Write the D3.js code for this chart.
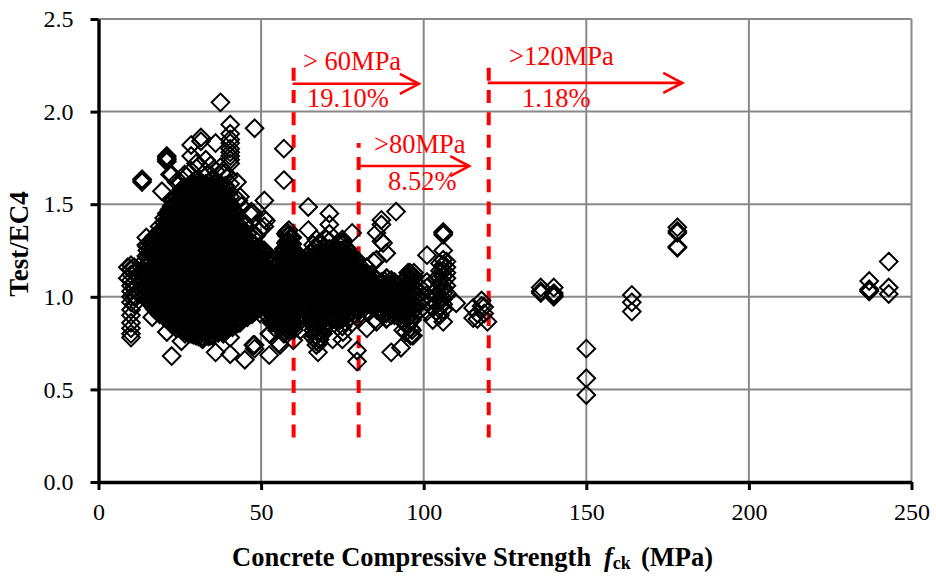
<!DOCTYPE html>
<html>
<head>
<meta charset="utf-8">
<script src="https://cdn.jsdelivr.net/npm/d3@7"></script>
<style>
	body { margin: 0; background: #fff; }
	text { font-family: "Liberation Serif", serif; }
</style>
</head>
<body>
<div id="chart-area"></div>
<script>
// Data: each fck value has its list of Test/EC4 ratios
const fckValues = [
	9, 10, 11, 12, 13.4, 14.7, 15, 16.5, 18, 19.5, 21, 22.5, 24, 25.5, 27, 28.5, 30, 31.5, 33, 34.5, 36, 37.5, 39, 40.5, 42, 43.5, 45, 46.5, 48, 49.5, 51,
	52.5, 54, 55.5, 57, 58, 59, 60, 61.5, 63, 64.5, 66, 67, 68, 69.5, 71, 72.5, 74, 75, 76.5, 78, 79.5, 81, 82.5, 84, 85.5, 87, 88.5, 90, 91.5, 93, 94.5, 96, 97,
	99, 101, 102.8, 104, 105, 106, 107, 110, 115.2, 116.5, 117.8, 118.6, 119.6, 136, 140, 150, 164, 178, 237, 243
];
const ratioValues = [
	[1.1, 1.16],
	[0.78, 0.8, 0.83, 0.86, 0.9, 0.93, 0.97, 1, 1.03, 1.06, 1.09, 1.12, 1.15, 1.17],
	[0.96, 1, 1.05, 1.08, 1.13, 1.16],
	[1.02, 1.06, 1.11, 1.14],
	[1.62, 1.63, 1.635, 1.03, 1.08, 1.13, 1.18],
	[1.32, 1.28, 1.01, 1.06, 1.12, 1.17, 1.22],
	[0.99, 1.03, 1.07, 1.1, 1.14, 1.17, 1.21, 1.25, 1.27],
	[0.89, 0.96, 0.99, 1.02, 1.05, 1.09, 1.12, 1.16, 1.19, 1.23, 1.26, 1.3],
	[0.92, 0.95, 0.98, 1.01, 1.04, 1.07, 1.1, 1.13, 1.15, 1.18, 1.22, 1.25, 1.28, 1.33],
	[1.57, 0.91, 0.94, 0.97, 1, 1.03, 1.06, 1.09, 1.12, 1.14, 1.17, 1.2, 1.23, 1.26, 1.3, 1.33, 1.36],
	[1.73, 1.74, 1.75, 1.76, 0.81, 0.88, 0.92, 0.95, 0.98, 1.01, 1.04, 1.07, 1.1, 1.13, 1.16, 1.19, 1.22, 1.25, 1.28, 1.31, 1.34, 1.37, 1.41, 1.45],
	[0.68, 0.85, 0.88, 0.91, 0.94, 0.97, 1, 1.03, 1.06, 1.09, 1.12, 1.15, 1.18, 1.21, 1.24, 1.27, 1.3, 1.33, 1.36, 1.39, 1.42, 1.45, 1.49, 1.52, 1.66],
	[0.83, 0.86, 0.89, 0.92, 0.95, 0.98, 1.01, 1.04, 1.07, 1.1, 1.13, 1.16, 1.19, 1.22, 1.25, 1.28, 1.31, 1.34, 1.37, 1.4, 1.43, 1.46, 1.5, 1.54, 1.62],
	[0.76, 0.82, 0.85, 0.88, 0.91, 0.94, 0.97, 1, 1.03, 1.06, 1.09, 1.12, 1.15, 1.18, 1.21, 1.24, 1.27, 1.3, 1.33, 1.36, 1.39, 1.42, 1.45, 1.48, 1.51, 1.55, 1.58],
	[0.81, 0.84, 0.87, 0.9, 0.93, 0.96, 0.99, 1.02, 1.05, 1.08, 1.11, 1.14, 1.17, 1.2, 1.23, 1.26, 1.29, 1.32, 1.35, 1.38, 1.41, 1.44, 1.47, 1.5, 1.53, 1.56, 1.59, 1.65],
	[1.82, 1.76, 0.8, 0.83, 0.86, 0.89, 0.92, 0.95, 0.98, 1.01, 1.04, 1.07, 1.1, 1.13, 1.16, 1.19, 1.22, 1.25, 1.28, 1.31, 1.34, 1.37, 1.4, 1.43, 1.46, 1.49, 1.52, 1.55, 1.58, 1.61],
	[1.72, 0.79, 0.82, 0.85, 0.88, 0.91, 0.94, 0.97, 1, 1.03, 1.06, 1.09, 1.12, 1.15, 1.18, 1.21, 1.24, 1.27, 1.3, 1.33, 1.36, 1.39, 1.42, 1.45, 1.48, 1.51, 1.54, 1.57, 1.6, 1.63],
	[1.86, 1.84, 0.78, 0.81, 0.84, 0.87, 0.9, 0.93, 0.96, 0.99, 1.02, 1.05, 1.08, 1.11, 1.14, 1.17, 1.2, 1.23, 1.26, 1.29, 1.32, 1.35, 1.38, 1.41, 1.44, 1.47, 1.5, 1.53, 1.56, 1.59, 1.62],
	[1.74, 0.8, 0.83, 0.86, 0.89, 0.92, 0.95, 0.98, 1.01, 1.04, 1.07, 1.1, 1.13, 1.16, 1.19, 1.22, 1.25, 1.28, 1.31, 1.34, 1.37, 1.4, 1.43, 1.46, 1.49, 1.52, 1.55, 1.58, 1.61],
	[1.71, 0.79, 0.82, 0.85, 0.88, 0.91, 0.94, 0.97, 1, 1.03, 1.06, 1.09, 1.12, 1.15, 1.18, 1.21, 1.24, 1.27, 1.3, 1.33, 1.36, 1.39, 1.42, 1.45, 1.48, 1.51, 1.54, 1.57, 1.6, 1.63],
	[1.83, 0.7, 0.81, 0.84, 0.87, 0.9, 0.93, 0.96, 0.99, 1.02, 1.05, 1.08, 1.11, 1.14, 1.17, 1.2, 1.23, 1.26, 1.29, 1.32, 1.35, 1.38, 1.41, 1.44, 1.47, 1.5, 1.53, 1.56, 1.59, 1.62],
	[2.05, 1.7, 0.83, 0.86, 0.89, 0.92, 0.95, 0.98, 1.01, 1.04, 1.07, 1.1, 1.13, 1.16, 1.19, 1.22, 1.25, 1.28, 1.31, 1.34, 1.37, 1.4, 1.43, 1.46, 1.49, 1.52, 1.55, 1.58, 1.61],
	[1.67, 0.82, 0.85, 0.88, 0.91, 0.94, 0.97, 1, 1.03, 1.06, 1.09, 1.12, 1.15, 1.18, 1.21, 1.24, 1.27, 1.3, 1.33, 1.36, 1.39, 1.42, 1.45, 1.48, 1.51, 1.54, 1.57, 1.6],
	[1.93, 1.88, 1.85, 1.83, 1.8, 1.78, 1.76, 1.74, 1.72, 1.61, 0.69, 0.78, 0.84, 0.87, 0.9, 0.93, 0.96, 0.99, 1.02, 1.05, 1.08, 1.11, 1.14, 1.17, 1.2, 1.23, 1.26, 1.29, 1.32, 1.35, 1.38, 1.41, 1.44, 1.47, 1.5, 1.54],
	[0.85, 0.88, 0.91, 0.94, 0.97, 1, 1.03, 1.06, 1.09, 1.12, 1.15, 1.18, 1.21, 1.24, 1.27, 1.3, 1.33, 1.36, 1.39, 1.42, 1.46],
	[1.54, 0.86, 0.89, 0.92, 0.95, 0.98, 1.01, 1.04, 1.07, 1.1, 1.13, 1.16, 1.19, 1.22, 1.25, 1.28, 1.31, 1.34, 1.37, 1.41],
	[0.66, 0.9, 0.93, 0.96, 0.99, 1.02, 1.05, 1.08, 1.11, 1.14, 1.17, 1.2, 1.23, 1.26, 1.29, 1.32, 1.39],
	[1.45, 0.91, 0.94, 0.97, 1, 1.03, 1.06, 1.09, 1.12, 1.15, 1.18, 1.21, 1.24, 1.27, 1.3],
	[1.91, 0.72, 0.74, 0.92, 0.95, 0.98, 1.01, 1.04, 1.07, 1.1, 1.13, 1.16, 1.19, 1.22, 1.25, 1.28, 1.33],
	[0.94, 0.97, 1, 1.03, 1.06, 1.09, 1.12, 1.15, 1.18, 1.21, 1.24, 1.27],
	[1.52, 1.42, 1.38, 0.96, 0.99, 1.02, 1.05, 1.08, 1.11, 1.14, 1.17, 1.2, 1.23, 1.25],
	[0.685, 0.8, 0.89, 0.93, 0.97, 1, 1.03, 1.06, 1.09, 1.12, 1.15, 1.18],
	[0.86, 0.91, 0.95, 0.98, 1.01, 1.04, 1.07, 1.1, 1.13, 1.16, 1.2],
	[0.75, 0.84, 0.88, 0.92, 0.96, 0.99, 1.02, 1.05, 1.08, 1.11, 1.14, 1.18, 1.22],
	[1.8, 1.63, 0.8, 0.84, 0.88, 0.92, 0.96, 1, 1.03, 1.06, 1.09, 1.12, 1.15, 1.18, 1.22, 1.26],
	[0.82, 0.85, 0.88, 0.91, 0.94, 0.97, 1, 1.03, 1.06, 1.09, 1.12, 1.15, 1.18, 1.21, 1.24, 1.27, 1.3, 1.33, 1.35],
	[0.83, 0.87, 0.9, 0.93, 0.96, 0.99, 1.02, 1.05, 1.08, 1.11, 1.14, 1.17, 1.2, 1.23, 1.26, 1.29, 1.32],
	[0.82, 0.86, 0.9, 0.94, 0.98, 1.01, 1.04, 1.07, 1.1, 1.13, 1.16, 1.19, 1.22, 1.25],
	[0.88, 0.92, 0.96, 1, 1.03, 1.06, 1.09, 1.12, 1.15, 1.18, 1.21],
	[0.9, 0.94, 0.98, 1.01, 1.04, 1.07, 1.1, 1.13, 1.16, 1.19],
	[1.485, 1.36, 0.9, 0.94, 0.97, 1, 1.03, 1.06, 1.09, 1.12, 1.15, 1.18, 1.22],
	[0.78, 0.82, 0.86, 0.9, 0.94, 0.98, 1.01, 1.04, 1.07, 1.1, 1.13, 1.16, 1.19, 1.22, 1.25, 1.28],
	[0.74, 0.76, 0.79, 0.83, 0.87, 0.91, 0.95, 0.99, 1.02, 1.05, 1.08, 1.11, 1.14, 1.17, 1.2, 1.23, 1.27, 1.31],
	[0.77, 0.81, 0.85, 0.89, 0.93, 0.97, 1, 1.03, 1.06, 1.09, 1.12, 1.15, 1.18, 1.21, 1.24, 1.28],
	[0.85, 0.89, 0.93, 0.96, 0.99, 1.02, 1.05, 1.08, 1.11, 1.14, 1.17, 1.2, 1.24],
	[1.45, 1.39, 1.34, 0.86, 0.9, 0.94, 0.98, 1.01, 1.04, 1.07, 1.1, 1.13, 1.16, 1.19, 1.22, 1.26, 1.3],
	[0.88, 0.92, 0.95, 0.98, 1.01, 1.04, 1.07, 1.1, 1.13, 1.16, 1.2, 1.24],
	[0.87, 0.91, 0.95, 0.99, 1.02, 1.05, 1.08, 1.11, 1.14, 1.17, 1.21, 1.25, 1.28],
	[1.31, 0.77, 0.84, 0.88, 0.92, 0.96, 1, 1.03, 1.06, 1.09, 1.12, 1.15, 1.18, 1.21, 1.24, 1.28],
	[0.9, 0.94, 0.97, 1, 1.03, 1.06, 1.09, 1.12, 1.15, 1.18, 1.22, 1.26],
	[1.345, 0.86, 0.92, 0.95, 0.98, 1.01, 1.04, 1.07, 1.1, 1.13, 1.16, 1.2],
	[0.65, 0.71, 0.89, 0.93, 0.97, 1, 1.03, 1.06, 1.09, 1.12, 1.15, 1.2],
	[0.95, 0.98, 1.01, 1.04, 1.07, 1.1, 1.13],
	[0.83, 0.92, 0.96, 1, 1.03, 1.06, 1.09, 1.12, 1.16],
	[0.95, 0.99, 1.02, 1.05, 1.08, 1.12],
	[0.865, 1.2, 1.345, 0.93, 0.97, 1.01, 1.05, 1.09],
	[1.39, 1.415, 1.3, 0.92, 0.96, 1, 1.04, 1.08],
	[0.88, 1.235, 0.91, 0.95, 0.99, 1.03, 1.07, 1.1],
	[0.7, 0.9, 0.94, 0.98, 1.02, 1.06, 1.09],
	[1.46, 0.92, 0.96, 1, 1.04, 1.07],
	[0.725, 0.88, 0.93, 0.97, 1.01, 1.05],
	[0.81, 0.85, 0.89, 0.92, 0.95, 0.98, 1.01, 1.04, 1.07, 1.1],
	[0.79, 0.83, 0.87, 0.91, 0.94, 0.97, 1, 1.03, 1.06, 1.09, 1.12],
	[0.9, 0.93, 0.96, 0.99, 1.02, 1.05, 1.08, 1.11, 1.13],
	[0.93, 0.98, 1.02, 1.05],
	[1.225, 0.92, 0.97, 1.01, 1.05, 1.08],
	[0.875, 0.94, 0.98, 1.02],
	[0.92, 0.96, 1, 1.04, 1.1],
	[0.9, 0.95, 0.99, 1.03, 1.07, 1.1, 1.14, 1.18],
	[1.345, 1.35, 1.335, 1.25, 1.2, 1.17, 1.14, 1.11, 1.08, 1.05, 1.02, 0.99, 0.96, 0.93, 0.865],
	[1.02, 1.06, 1.1, 1.13, 1.16, 1.19],
	[0.965],
	[0.94, 0.885],
	[0.88, 0.91],
	[0.98, 0.95],
	[0.945, 0.91],
	[0.865],
	[1.05, 1.03, 1.02],
	[1.05, 1.02, 1.01, 1],
	[0.72, 0.56, 0.47],
	[1.01, 0.97, 0.92],
	[1.375, 1.355, 1.345, 1.27, 1.265],
	[1.085, 1.04, 1.04, 1.03, 1.03],
	[1.19, 1.05, 1.015]
];

// The same specimens again where the cloud is packed solid
const denseFck = [
	15.8, 17.2, 18.8, 20.2, 21.8, 23.2, 24.8, 26.2, 27.8, 29.2, 30.8, 32.2, 33.8, 35.2, 36.8, 38.2, 39.8, 41.2, 42.8, 44.2, 45.8, 47.2, 48.8, 50.2,
	53.2, 54.8, 56.2, 57.6, 58.5, 59.6, 60.8, 62.4, 65.2, 66.6, 67.8, 69, 70.4, 71.8, 73.2, 74.6, 75.8, 77.2, 78.8, 80.4, 82, 83.6, 85, 86.6, 88, 89.6, 91, 92.6, 94, 95.2, 96.4
];
const denseRatios = [
	[0.965, 0.995, 1.025, 1.055, 1.085, 1.115, 1.145, 1.175, 1.205, 1.235, 1.265, 1.295],
	[0.935, 0.965, 0.995, 1.025, 1.055, 1.085, 1.115, 1.145, 1.175, 1.205, 1.235, 1.265, 1.295, 1.325],
	[0.905, 0.935, 0.965, 0.995, 1.025, 1.055, 1.085, 1.115, 1.145, 1.175, 1.205, 1.235, 1.265, 1.295, 1.325, 1.355, 1.38],
	[0.89, 0.92, 0.95, 0.98, 1.01, 1.04, 1.07, 1.1, 1.13, 1.16, 1.19, 1.22, 1.25, 1.28, 1.31, 1.34, 1.37, 1.4, 1.425],
	[0.875, 0.905, 0.935, 0.965, 0.995, 1.025, 1.055, 1.085, 1.115, 1.145, 1.175, 1.205, 1.235, 1.265, 1.295, 1.325, 1.355, 1.385, 1.415, 1.445, 1.47],
	[0.855, 0.885, 0.915, 0.945, 0.975, 1.005, 1.035, 1.065, 1.095, 1.125, 1.155, 1.185, 1.215, 1.245, 1.275, 1.305, 1.335, 1.365, 1.395, 1.425, 1.455, 1.485, 1.52],
	[0.835, 0.865, 0.895, 0.925, 0.955, 0.985, 1.015, 1.045, 1.075, 1.105, 1.135, 1.165, 1.195, 1.225, 1.255, 1.285, 1.315, 1.345, 1.375, 1.405, 1.435, 1.465, 1.495, 1.525, 1.56],
	[0.815, 0.845, 0.875, 0.905, 0.935, 0.965, 0.995, 1.025, 1.055, 1.085, 1.115, 1.145, 1.175, 1.205, 1.235, 1.265, 1.295, 1.325, 1.355, 1.385, 1.415, 1.445, 1.475, 1.505, 1.535, 1.565, 1.59],
	[0.8, 0.83, 0.86, 0.89, 0.92, 0.95, 0.98, 1.01, 1.04, 1.07, 1.1, 1.13, 1.16, 1.19, 1.22, 1.25, 1.28, 1.31, 1.34, 1.37, 1.4, 1.43, 1.46, 1.49, 1.52, 1.55, 1.58],
	[0.795, 0.825, 0.855, 0.885, 0.915, 0.945, 0.975, 1.005, 1.035, 1.065, 1.095, 1.125, 1.155, 1.185, 1.215, 1.245, 1.275, 1.305, 1.335, 1.365, 1.395, 1.425, 1.455, 1.485, 1.515, 1.545, 1.575, 1.6],
	[0.785, 0.815, 0.845, 0.875, 0.905, 0.935, 0.965, 0.995, 1.025, 1.055, 1.085, 1.115, 1.145, 1.175, 1.205, 1.235, 1.265, 1.295, 1.325, 1.355, 1.385, 1.415, 1.445, 1.475, 1.505, 1.535, 1.565, 1.595],
	[0.78, 0.81, 0.84, 0.87, 0.9, 0.93, 0.96, 0.99, 1.02, 1.05, 1.08, 1.11, 1.14, 1.17, 1.2, 1.23, 1.26, 1.29, 1.32, 1.35, 1.38, 1.41, 1.44, 1.47, 1.5, 1.53, 1.56, 1.59, 1.61],
	[0.785, 0.815, 0.845, 0.875, 0.905, 0.935, 0.965, 0.995, 1.025, 1.055, 1.085, 1.115, 1.145, 1.175, 1.205, 1.235, 1.265, 1.295, 1.325, 1.355, 1.385, 1.415, 1.445, 1.475, 1.505, 1.535, 1.565, 1.595, 1.615],
	[0.79, 0.82, 0.85, 0.88, 0.91, 0.94, 0.97, 1, 1.03, 1.06, 1.09, 1.12, 1.15, 1.18, 1.21, 1.24, 1.27, 1.3, 1.33, 1.36, 1.39, 1.42, 1.45, 1.48, 1.51, 1.54, 1.57, 1.6],
	[0.805, 0.835, 0.865, 0.895, 0.925, 0.955, 0.985, 1.015, 1.045, 1.075, 1.105, 1.135, 1.165, 1.195, 1.225, 1.255, 1.285, 1.315, 1.345, 1.375, 1.405, 1.435, 1.465, 1.495, 1.525, 1.555, 1.585],
	[0.815, 0.845, 0.875, 0.905, 0.935, 0.965, 0.995, 1.025, 1.055, 1.085, 1.115, 1.145, 1.175, 1.205, 1.235, 1.265, 1.295, 1.325, 1.355, 1.385, 1.415, 1.445, 1.475, 1.505, 1.535, 1.565],
	[0.83, 0.86, 0.89, 0.92, 0.95, 0.98, 1.01, 1.04, 1.07, 1.1, 1.13, 1.16, 1.19, 1.22, 1.25, 1.28, 1.31, 1.34, 1.37, 1.4, 1.43, 1.46, 1.49, 1.52],
	[0.835, 0.865, 0.895, 0.925, 0.955, 0.985, 1.015, 1.045, 1.075, 1.105, 1.135, 1.165, 1.195, 1.225, 1.255, 1.285, 1.315, 1.345, 1.375, 1.405, 1.435, 1.465],
	[0.855, 0.885, 0.915, 0.945, 0.975, 1.005, 1.035, 1.065, 1.095, 1.125, 1.155, 1.185, 1.215, 1.245, 1.275, 1.305, 1.335, 1.365, 1.395],
	[0.875, 0.905, 0.935, 0.965, 0.995, 1.025, 1.055, 1.085, 1.115, 1.145, 1.175, 1.205, 1.235, 1.265, 1.295, 1.325, 1.355],
	[0.89, 0.92, 0.95, 0.98, 1.01, 1.04, 1.07, 1.1, 1.13, 1.16, 1.19, 1.22, 1.25, 1.28, 1.31, 1.34],
	[0.905, 0.935, 0.965, 0.995, 1.025, 1.055, 1.085, 1.115, 1.145, 1.175, 1.205, 1.235, 1.265, 1.295],
	[0.93, 0.96, 0.99, 1.02, 1.05, 1.08, 1.11, 1.14, 1.17, 1.2, 1.23, 1.26],
	[0.955, 0.985, 1.015, 1.045, 1.075, 1.105, 1.135, 1.165, 1.195, 1.225, 1.25],
	[0.875, 0.905, 0.935, 0.965, 0.995, 1.025, 1.055, 1.085, 1.115, 1.145, 1.175, 1.205],
	[0.865, 0.895, 0.925, 0.955, 0.985, 1.015, 1.045, 1.075, 1.105, 1.135, 1.165, 1.2],
	[0.855, 0.885, 0.915, 0.945, 0.975, 1.005, 1.035, 1.065, 1.095, 1.125, 1.155, 1.185, 1.23],
	[0.83, 0.86, 0.89, 0.92, 0.95, 0.98, 1.01, 1.04, 1.07, 1.1, 1.13, 1.16, 1.19, 1.22, 1.25, 1.29, 1.34],
	[0.82, 0.85, 0.88, 0.91, 0.94, 0.97, 1, 1.03, 1.06, 1.09, 1.12, 1.15, 1.18, 1.21, 1.24, 1.27, 1.3, 1.33, 1.36],
	[0.835, 0.865, 0.895, 0.925, 0.955, 0.985, 1.015, 1.045, 1.075, 1.105, 1.135, 1.165, 1.195, 1.225, 1.255, 1.285, 1.32],
	[0.85, 0.88, 0.91, 0.94, 0.97, 1, 1.03, 1.06, 1.09, 1.12, 1.15, 1.18, 1.21, 1.24],
	[0.875, 0.905, 0.935, 0.965, 0.995, 1.025, 1.055, 1.085, 1.115, 1.145, 1.175],
	[0.885, 0.915, 0.945, 0.975, 1.005, 1.035, 1.065, 1.095, 1.125, 1.155, 1.185, 1.21],
	[0.79, 0.83, 0.865, 0.895, 0.925, 0.955, 0.985, 1.015, 1.045, 1.075, 1.105, 1.135, 1.165, 1.195, 1.225, 1.26],
	[0.75, 0.77, 0.8, 0.845, 0.875, 0.905, 0.935, 0.965, 0.995, 1.025, 1.055, 1.085, 1.115, 1.145, 1.175, 1.205, 1.24, 1.29],
	[0.8, 0.84, 0.87, 0.9, 0.93, 0.96, 0.99, 1.02, 1.05, 1.08, 1.11, 1.14, 1.17, 1.2, 1.23, 1.26],
	[0.87, 0.9, 0.93, 0.96, 0.99, 1.02, 1.05, 1.08, 1.11, 1.14, 1.17, 1.2, 1.23],
	[0.875, 0.905, 0.935, 0.965, 0.995, 1.025, 1.055, 1.085, 1.115, 1.145, 1.175, 1.205, 1.24],
	[0.885, 0.915, 0.945, 0.975, 1.005, 1.035, 1.065, 1.095, 1.125, 1.155, 1.185, 1.215],
	[0.88, 0.91, 0.94, 0.97, 1, 1.03, 1.06, 1.09, 1.12, 1.15, 1.18, 1.21, 1.25, 1.29],
	[0.865, 0.895, 0.925, 0.955, 0.985, 1.015, 1.045, 1.075, 1.105, 1.135, 1.165, 1.195, 1.225, 1.26],
	[0.885, 0.915, 0.945, 0.975, 1.005, 1.035, 1.065, 1.095, 1.125, 1.155, 1.185, 1.22],
	[0.9, 0.93, 0.96, 0.99, 1.02, 1.05, 1.08, 1.11, 1.14, 1.17, 1.2],
	[0.935, 0.965, 0.995, 1.025, 1.055, 1.085, 1.115, 1.15],
	[0.945, 0.975, 1.005, 1.035, 1.065, 1.095, 1.125],
	[0.955, 0.985, 1.015, 1.045, 1.075, 1.1],
	[0.945, 0.975, 1.005, 1.035, 1.065, 1.095],
	[0.925, 0.985, 1.015, 1.045, 1.075],
	[0.915, 0.955, 0.995, 1.025, 1.055, 1.085],
	[0.935, 0.975, 1.005, 1.035, 1.065],
	[0.9, 0.95, 0.985, 1.015, 1.045, 1.08],
	[0.91, 0.945, 0.975, 1.005, 1.035, 1.06],
	[0.865, 0.905, 0.935, 0.965, 0.995, 1.025, 1.055, 1.085],
	[0.845, 0.885, 0.925, 0.955, 0.985, 1.015, 1.045, 1.075, 1.105, 1.13],
	[0.82, 0.875, 0.915, 0.945, 0.975, 1.005, 1.035, 1.065, 1.095, 1.115]
];

// Single hollow diamonds sitting on the rim of the cloud
const rimFck = [
	25, 22, 23, 29.7, 31, 38, 42.6, 43, 44, 47.5, 44.5, 48.5, 28.5, 33.5, 36, 26.5, 40,
	32, 26.6, 24.5, 49.7, 51.8, 38.4, 53.3, 54.9, 58, 47.6, 55.8, 52.7, 54.3, 59.9, 62, 67.5, 72, 75.2, 85, 88.7, 93.7, 96.7,
	47, 51.5, 50, 70, 75, 65, 63, 87.5, 84.5, 88.7, 95.8
];
const rimRatio = [
	1.62, 1.66, 1.52, 1.63, 1.71, 1.67, 1.62, 1.52, 1.49, 1.45, 1.39, 1.33, 1.68, 1.66, 1.68, 1.66, 1.65,
	0.77, 0.8, 0.85, 0.91, 0.94, 0.8, 0.86, 0.82, 0.8, 0.74, 0.74, 0.8, 0.875, 0.765, 0.82, 0.7, 0.77, 0.81, 0.875, 0.885, 0.82, 0.79,
	1.46, 1.41, 1.37, 1.31, 1.295, 1.235, 1.19, 1.29, 1.19, 1.1, 1.13
];

const xTicks = [0, 50, 100, 150, 200, 250];
const yTicks = [0, 0.5, 1, 1.5, 2, 2.5];

// Red annotations
const limitFck = [60, 80, 120];
const limitTop = [2.24, 1.83, 2.24];
const arrowEnd = [98.5, 114, 179.5];
const arrowRatio = [2.15, 1.706, 2.155];
const limitLabels = ["> 60MPa", ">80MPa", ">120MPa"];
const shareLabels = ["19.10%", "8.52%", "1.18%"];

const toPoints = (fs, rs) => fs.flatMap((f, i) => rs[i].map(r => ({ fck: f, ratio: r })));
const points = toPoints(fckValues, ratioValues)
	.concat(toPoints(denseFck, denseRatios))
	.concat(rimFck.map((f, i) => ({ fck: f, ratio: rimRatio[i] })));

// Canvas
const svg = d3.select("#chart-area")
	.append("svg")
	.attr("width", 936)
	.attr("height", 577);

// Scales
const x = d3.scaleLinear().domain([0, 250]).range([98.5, 911.5]);
const y = d3.scaleLinear().domain([0, 2.5]).range([482, 19]);

// Grid
svg.append("g").selectAll("line").data(xTicks.slice(1)).join("line")
	.attr("x1", d => x(d)).attr("x2", d => x(d))
	.attr("y1", y(0)).attr("y2", y(2.5))
	.attr("stroke", "#888").attr("stroke-width", 2);
svg.append("g").selectAll("line").data(yTicks.slice(1)).join("line")
	.attr("x1", x(0)).attr("x2", x(250))
	.attr("y1", d => y(d)).attr("y2", d => y(d))
	.attr("stroke", "#888").attr("stroke-width", 2);

// Dashed limits and arrows, dashes counted up from the bottom end
const red = "#ff0000";
svg.append("g").selectAll("line").data(limitFck).join("line")
	.attr("x1", d => x(d)).attr("x2", d => x(d))
	.attr("y1", y(0.24)).attr("y2", (d, i) => y(limitTop[i]))
	.attr("stroke", red).attr("stroke-width", 4)
	.attr("stroke-dasharray", "13 9.3");

const arrows = svg.append("g").attr("fill", "none").attr("stroke", red).attr("stroke-width", 2.6);
limitFck.forEach((d, i) => {
	const x0 = x(d) - 1, x1 = x(arrowEnd[i]), yy = y(arrowRatio[i]);
	arrows.append("path").attr("d", `M${x0},${yy}H${x1}`);
	arrows.append("path").attr("d", `M${x1 - 19},${yy - 10}L${x1},${yy}L${x1 - 19},${yy + 10}`);
});

// Points
svg.append("g").selectAll("path").data(points).join("path")
	.attr("transform", d => `translate(${x(d.fck)},${y(d.ratio)})`)
	.attr("d", "M0,-8.8L8.8,0L0,8.8L-8.8,0Z")
	.attr("fill", "none")
	.attr("stroke", "#000")
	.attr("stroke-width", 2);

// Axes
const xAxisCall = d3.axisBottom(x).tickValues(xTicks).tickSize(8).tickSizeOuter(0).tickPadding(13);
const xAxis = svg.append("g").attr("transform", `translate(0, ${y(0)})`).call(xAxisCall);
const yAxisCall = d3.axisLeft(y).tickValues(yTicks).tickFormat(d3.format(".1f")).tickSize(8).tickSizeOuter(0).tickPadding(17);
const yAxis = svg.append("g").attr("transform", `translate(${x(0)}, 0)`).call(yAxisCall);
[xAxis, yAxis].forEach(a => {
	a.selectAll("path").attr("stroke", "#000").attr("stroke-width", 3.4);
	a.selectAll("line").attr("stroke", "#000").attr("stroke-width", 3);
	a.selectAll("text").attr("font-family", "Liberation Serif").attr("font-size", 24).attr("fill", "#000");
});

// Red labels
const redText = svg.append("g").attr("fill", red).attr("font-size", 26.5);
const limitLabelPos = [[303, 70], [374, 153], [509, 65]];
const shareLabelPos = [[307, 107], [388, 190], [522, 107]];
limitLabels.forEach((t, i) => redText.append("text").attr("x", limitLabelPos[i][0]).attr("y", limitLabelPos[i][1]).text(t));
shareLabels.forEach((t, i) => redText.append("text").attr("x", shareLabelPos[i][0]).attr("y", shareLabelPos[i][1]).text(t));

// Axes Labels
const xLabel = svg.append("text")
	.attr("x", 232).attr("y", 566)
	.attr("font-size", 26.5).attr("font-weight", "bold");
xLabel.append("tspan").text("Concrete Compressive Strength");
xLabel.append("tspan").attr("x", 604).attr("font-style", "italic").text("f");
xLabel.append("tspan").attr("font-size", 18).attr("dy", 3).text("ck");
xLabel.append("tspan").attr("x", 641).attr("dy", -3).text("(MPa)");

svg.append("text")
	.attr("transform", "translate(28, 244) rotate(-90)")
	.attr("text-anchor", "middle")
	.attr("font-size", 27).attr("font-weight", "bold")
	.text("Test/EC4");
</script>
</body>
</html>
